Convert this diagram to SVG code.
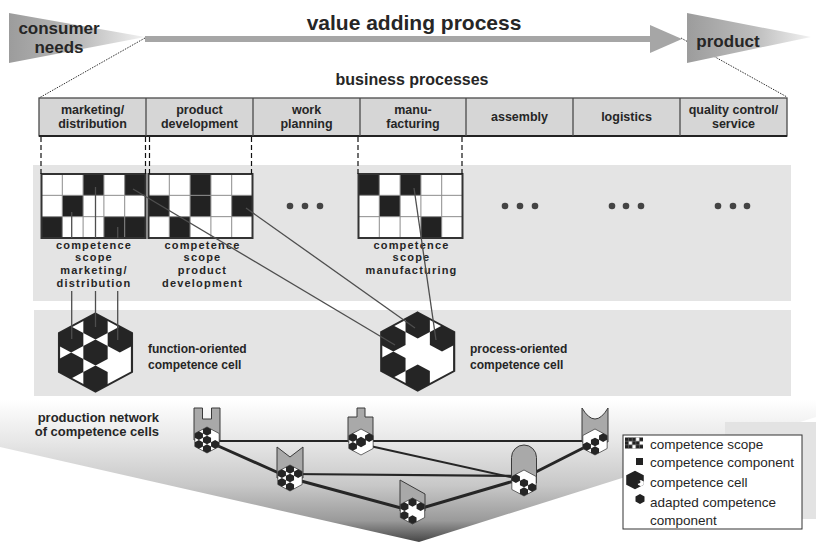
<svg xmlns="http://www.w3.org/2000/svg" xmlns:xlink="http://www.w3.org/1999/xlink" width="816" height="542" viewBox="0 0 816 542">
<style>
  .t { font-family: "Liberation Sans", Arial, sans-serif; fill: #262626; }
  .b { font-weight: bold; }
  .proc { fill: #d6d6d6; stroke: #4a4a4a; stroke-width: 1.3; }
  .dash { stroke: #111; stroke-width: 1.2; stroke-dasharray: 5 3; fill: none; }
  .dot { stroke: #333; stroke-width: 1; stroke-dasharray: 1.5 1.2; fill: none; }
  .band { fill: #e4e4e4; }
  .cw { fill: #fff; }
  .cb { fill: #222; }
  .gl { stroke: #8c8c8c; stroke-width: 1; fill: none; }
  .gf { fill: none; stroke: #333; stroke-width: 2; }
  .lk { stroke: #4e4e4e; stroke-width: 1.3; fill: none; }
  .hbig { fill: #fff; stroke: #2a2a2a; stroke-width: 2; }
  .hd { fill: #252525; }
  .sock { fill: #a9a9a9; stroke: #3a3a3a; stroke-width: 1; }
  .ed { stroke: #262626; fill: none; stroke-linecap: round; }
  .ell { fill: #444; }
</style>
<defs>
  <linearGradient id="gIn" x1="0" y1="0" x2="1" y2="0">
    <stop offset="0" stop-color="#9c9c9c"/>
    <stop offset="0.55" stop-color="#bdbdbd"/>
    <stop offset="1" stop-color="#f2f2f2"/>
  </linearGradient>
  <linearGradient id="gFunnel" gradientUnits="userSpaceOnUse" x1="0" y1="400" x2="0" y2="542">
    <stop offset="0" stop-color="#ffffff"/>
    <stop offset="0.3" stop-color="#e6e6e6"/>
    <stop offset="0.6" stop-color="#c8c8c8"/>
    <stop offset="0.85" stop-color="#9a9a9a"/>
    <stop offset="1" stop-color="#464646"/>
  </linearGradient>
  <polygon id="hb" points="0,-39 33.77,-19.5 33.77,19.5 0,39 -33.77,19.5 -33.77,-19.5"/>
  <polygon id="hs" points="0,-13 11.26,-6.5 11.26,6.5 0,13 -11.26,6.5 -11.26,-6.5"/>
  <path id="gridLines" d="M20.8,0V64M41.6,0V64M62.4,0V64M83.2,0V64M0,21.33H104M0,42.67H104"/>
</defs>

<!-- value adding process -->
<g id="flow">
  <g class="dot">
    <line x1="145" y1="38" x2="39" y2="98"/>
    <line x1="681" y1="38" x2="787" y2="97"/>
  </g>
  <line x1="145" y1="39" x2="652" y2="39" stroke="#a6a6a6" stroke-width="6"/>
  <polygon points="650,25 682,39 650,53" fill="#a6a6a6"/>
  <text class="t b" x="414" y="30" font-size="21" text-anchor="middle">value adding process</text>
</g>
<g id="consumer-needs">
  <polygon points="9,13 145,37 9,63" fill="url(#gIn)"/>
  <text class="t b" font-size="17" text-anchor="middle"><tspan x="59" y="34">consumer</tspan><tspan x="59" y="53">needs</tspan></text>
</g>
<g id="product">
  <polygon points="687,13 811,37 687,63" fill="url(#gIn)"/>
  <text class="t b" x="728" y="47" font-size="17" text-anchor="middle">product</text>
</g>

<!-- business processes -->
<g id="business-processes">
  <text class="t b" x="412" y="85" font-size="16" text-anchor="middle">business processes</text>
  <rect class="proc" x="39" y="98" width="748" height="38"/>
  <line x1="39" y1="136" x2="787" y2="136" stroke="#222" stroke-width="2"/>
  <g stroke="#4a4a4a" stroke-width="1.3">
    <line x1="146" y1="98" x2="146" y2="136"/>
    <line x1="253" y1="98" x2="253" y2="136"/>
    <line x1="360" y1="98" x2="360" y2="136"/>
    <line x1="466" y1="98" x2="466" y2="136"/>
    <line x1="573" y1="98" x2="573" y2="136"/>
    <line x1="680" y1="98" x2="680" y2="136"/>
  </g>
  <g class="t b" font-size="12.5" text-anchor="middle">
    <text><tspan x="92.5" y="114">marketing/</tspan><tspan x="92.5" y="128">distribution</tspan></text>
    <text><tspan x="199.5" y="114">product</tspan><tspan x="199.5" y="128">development</tspan></text>
    <text><tspan x="306.5" y="114">work</tspan><tspan x="306.5" y="128">planning</tspan></text>
    <text><tspan x="413" y="114">manu-</tspan><tspan x="413" y="128">facturing</tspan></text>
    <text x="519.5" y="121">assembly</text>
    <text x="626.5" y="121">logistics</text>
    <text><tspan x="733.5" y="114">quality control/</tspan><tspan x="733.5" y="128">service</tspan></text>
  </g>
</g>

<!-- bands -->
<rect class="band" x="33" y="165" width="758" height="136"/>
<rect class="band" x="34" y="310" width="757" height="86"/>

<!-- competence scopes -->
<g id="scope-marketing" transform="translate(41.5,174)">
  <rect class="cw" width="104" height="64"/>
  <rect class="cb" x="41.6" y="0" width="20.8" height="21.33"/>
  <rect class="cb" x="83.2" y="0" width="20.8" height="21.33"/>
  <rect class="cb" x="20.8" y="21.33" width="20.8" height="21.34"/>
  <rect class="cb" x="0" y="42.67" width="20.8" height="21.33"/>
  <rect class="cb" x="62.4" y="42.67" width="41.6" height="21.33"/>
  <use href="#gridLines" class="gl"/>
  <rect class="gf" width="104" height="64"/>
</g>
<g id="scope-product" transform="translate(148.5,174)">
  <rect class="cw" width="104" height="64"/>
  <rect class="cb" x="41.6" y="0" width="20.8" height="21.33"/>
  <rect class="cb" x="0" y="21.33" width="20.8" height="21.34"/>
  <rect class="cb" x="41.6" y="21.33" width="20.8" height="21.34"/>
  <rect class="cb" x="83.2" y="21.33" width="20.8" height="21.34"/>
  <rect class="cb" x="20.8" y="42.67" width="20.8" height="21.33"/>
  <use href="#gridLines" class="gl"/>
  <rect class="gf" width="104" height="64"/>
</g>
<g id="scope-manufacturing" transform="translate(358.5,174)">
  <rect class="cw" width="104" height="64"/>
  <rect class="cb" x="0" y="0" width="20.8" height="21.33"/>
  <rect class="cb" x="41.6" y="0" width="20.8" height="21.33"/>
  <rect class="cb" x="20.8" y="21.33" width="20.8" height="21.34"/>
  <rect class="cb" x="62.4" y="42.67" width="20.8" height="21.33"/>
  <use href="#gridLines" class="gl"/>
  <rect class="gf" width="104" height="64"/>
</g>
<g id="scope-labels" class="t b" font-size="11" letter-spacing="1.2" text-anchor="middle">
  <text><tspan x="94" y="248.5">competence</tspan><tspan x="94" y="261.3">scope</tspan><tspan x="94" y="274.1">marketing/</tspan><tspan x="94" y="286.9">distribution</tspan></text>
  <text><tspan x="202.5" y="248.5">competence</tspan><tspan x="202.5" y="261.3">scope</tspan><tspan x="202.5" y="274.1">product</tspan><tspan x="202.5" y="286.9">development</tspan></text>
  <text><tspan x="411.5" y="248.5">competence</tspan><tspan x="411.5" y="261.3">scope</tspan><tspan x="411.5" y="274.1">manufacturing</tspan></text>
</g>
<g id="more-scopes" class="ell">
  <circle cx="290" cy="206" r="3.3"/><circle cx="305" cy="206" r="3.3"/><circle cx="320" cy="206" r="3.3"/>
  <circle cx="505" cy="206" r="3.3"/><circle cx="520" cy="206" r="3.3"/><circle cx="535" cy="206" r="3.3"/>
  <circle cx="612" cy="206" r="3.3"/><circle cx="626" cy="206" r="3.3"/><circle cx="641" cy="206" r="3.3"/>
  <circle cx="718" cy="206" r="3.3"/><circle cx="733" cy="206" r="3.3"/><circle cx="747" cy="206" r="3.3"/>
</g>

<!-- competence cells -->
<g id="cell-function" transform="translate(95.5,352.5) scale(1.08,1)">
  <use href="#hb" class="hbig"/>
  <use href="#hs" class="hd" x="0" y="-26"/>
  <use href="#hs" class="hd" x="-22.52" y="-13"/>
  <use href="#hs" class="hd" x="22.52" y="-13"/>
  <use href="#hs" class="hd" x="0" y="0"/>
  <use href="#hs" class="hd" x="-22.52" y="13"/>
  <use href="#hs" class="hd" x="0" y="26"/>
</g>
<text class="t b" font-size="12"><tspan x="148" y="353">function-oriented</tspan><tspan x="148" y="369">competence cell</tspan></text>

<g id="cell-process" transform="translate(417.7,351.5) scale(1.08,1)">
  <use href="#hb" class="hbig"/>
  <use href="#hs" class="hd" x="0" y="-26"/>
  <use href="#hs" class="hd" x="-22.52" y="-13"/>
  <use href="#hs" class="hd" x="22.52" y="-13"/>
  <use href="#hs" class="hd" x="-22.52" y="13"/>
  <use href="#hs" class="hd" x="0" y="26"/>
</g>
<text class="t b" font-size="12"><tspan x="470" y="353">process-oriented</tspan><tspan x="470" y="369">competence cell</tspan></text>

<!-- connectors: process boundaries and scope-to-cell links -->
<g id="connectors">
  <g class="dash">
    <line x1="41" y1="137" x2="41" y2="174"/>
    <line x1="145.5" y1="137" x2="145.5" y2="174"/>
    <line x1="149.5" y1="137" x2="149.5" y2="174"/>
    <line x1="251.5" y1="137" x2="251.5" y2="174"/>
    <line x1="358" y1="137" x2="358" y2="174"/>
    <line x1="462" y1="137" x2="462" y2="174"/>
  </g>
  <g class="lk">
    <polyline points="71.7,212 71.7,238"/>
    <polyline points="71.7,291 71.7,339"/>
    <polyline points="95.5,187 95.5,238"/>
    <polyline points="95.5,291 95.5,327"/>
    <polyline points="117.7,227 117.7,238"/>
    <polyline points="117.7,291 117.7,340"/>
    <line x1="133" y1="189" x2="395" y2="345"/>
    <line x1="246" y1="208" x2="415" y2="328"/>
    <line x1="414" y1="188" x2="436" y2="340"/>
  </g>
</g>

<!-- production network -->
<polygon id="network-ground" points="0,400 816,400 816,417 419,542 0,447" fill="url(#gFunnel)"/>
<rect x="725" y="422" width="91" height="97" fill="#e3e3e3"/>
<text class="t b" font-size="13" text-anchor="end"><tspan x="159" y="422">production network</tspan><tspan x="159" y="436">of competence cells</tspan></text>

<g id="network-links">
  <line class="ed" stroke-width="2.2" x1="207" y1="441" x2="595" y2="441"/>
  <line class="ed" stroke-width="2.2" x1="290" y1="474" x2="524" y2="476"/>
  <line class="ed" stroke-width="2" x1="361" y1="444" x2="524" y2="480"/>
  <line class="ed" stroke-width="3" x1="207" y1="441" x2="290" y2="478"/>
  <line class="ed" stroke-width="3" x1="290" y1="478" x2="412" y2="511"/>
  <line class="ed" stroke-width="3" x1="412" y1="511" x2="524" y2="478"/>
  <line class="ed" stroke-width="3" x1="524" y1="478" x2="595" y2="442"/>
</g>

<g id="node-1">
  <polygon class="sock" points="194,408 202.5,408 202.5,419 211.5,419 211.5,408 220,408 220,440 194,440"/>
  <g transform="translate(207,440) scale(0.36,0.333)">
    <use href="#hb" class="hbig" stroke-width="4"/>
    <use href="#hs" class="hd" x="0" y="-26"/><use href="#hs" class="hd" x="-22.52" y="-13"/>
    <use href="#hs" class="hd" x="0" y="0"/><use href="#hs" class="hd" x="-22.52" y="13"/>
    <use href="#hs" class="hd" x="22.52" y="13"/><use href="#hs" class="hd" x="0" y="26"/>
  </g>
</g>
<g id="node-2">
  <polygon class="sock" points="357,408 365,408 365,417 373,417 373,442 348,442 348,417 357,417"/>
  <g transform="translate(361,442) scale(0.36,0.333)">
    <use href="#hb" class="hbig" stroke-width="4"/>
    <use href="#hs" class="hd" x="0" y="0" transform="scale(1.2)"/>
    <use href="#hs" class="hd" x="-22.52" y="13"/><use href="#hs" class="hd" x="22.52" y="-13"/>
    <use href="#hs" class="hd" x="-22.52" y="-13"/>
  </g>
</g>
<g id="node-3">
  <polygon class="sock" points="277,447 290,457 303,447 303,478 277,478"/>
  <g transform="translate(290,478) scale(0.36,0.333)">
    <use href="#hb" class="hbig" stroke-width="4"/>
    <use href="#hs" class="hd" x="0" y="-26"/><use href="#hs" class="hd" x="-22.52" y="-13"/>
    <use href="#hs" class="hd" x="22.52" y="-13"/><use href="#hs" class="hd" x="0" y="0"/>
    <use href="#hs" class="hd" x="-22.52" y="13"/><use href="#hs" class="hd" x="0" y="26"/>
  </g>
</g>
<g id="node-4">
  <polygon class="sock" points="400,480 425,494 425,511 400,511"/>
  <g transform="translate(412.5,511) scale(0.36,0.333)">
    <use href="#hb" class="hbig" stroke-width="4"/>
    <use href="#hs" class="hd" x="0" y="-26"/><use href="#hs" class="hd" x="-22.52" y="-13"/>
    <use href="#hs" class="hd" x="22.52" y="-13"/><use href="#hs" class="hd" x="-22.52" y="13"/>
    <use href="#hs" class="hd" x="0" y="26"/>
  </g>
</g>
<g id="node-5">
  <path class="sock" d="M511.5,483V457.5A12.5,12.5 0 0 1 536.5,457.5V483Z"/>
  <g transform="translate(524,483) scale(0.36,0.333)">
    <use href="#hb" class="hbig" stroke-width="4"/>
    <use href="#hs" class="hd" x="0" y="0"/><use href="#hs" class="hd" x="-22.52" y="-13"/>
    <use href="#hs" class="hd" x="0" y="26"/><use href="#hs" class="hd" x="22.52" y="13"/>
  </g>
</g>
<g id="node-6">
  <path class="sock" d="M582,408Q595,430 608,408V442H582Z"/>
  <g transform="translate(595,442) scale(0.36,0.333)">
    <use href="#hb" class="hbig" stroke-width="4"/>
    <use href="#hs" class="hd" x="22.52" y="-13"/><use href="#hs" class="hd" x="0" y="0"/>
    <use href="#hs" class="hd" x="-22.52" y="13"/><use href="#hs" class="hd" x="0" y="26"/>
  </g>
</g>

<!-- legend -->
<g id="legend">
  <rect x="623" y="435" width="179" height="94" fill="#fff" stroke="#333" stroke-width="1"/>
  <g transform="translate(625,437.5)">
    <rect width="18" height="11" fill="#222"/>
    <rect x="3.6" y="3.7" width="3.6" height="3.6" fill="#fff"/>
    <rect x="10.8" y="0" width="3.6" height="3.7" fill="#fff"/>
    <rect x="7.2" y="7.3" width="3.6" height="3.7" fill="#fff"/>
    <rect x="14.4" y="3.7" width="3.6" height="3.6" fill="#fff"/>
    <path d="M3.6,0V11M7.2,0V11M10.8,0V11M14.4,0V11M0,3.7H18M0,7.3H18" stroke="#777" stroke-width="0.6"/>
  </g>
  <rect x="636" y="458" width="7" height="7" fill="#222"/>
  <g transform="translate(635,480) scale(0.26,0.24)">
    <use href="#hb" fill="#222"/>
    <use href="#hs" fill="#fff" x="22.52" y="13"/>
    <use href="#hs" class="hd" x="22.52" y="13" transform="scale(0.6)"/>
  </g>
  <polygon points="640,494 644.5,496.5 644.5,501.5 640,504 635.5,501.5 635.5,496.5" fill="#222"/>
  <g class="t" font-size="13.5">
    <text x="650" y="449">competence scope</text>
    <text x="650" y="467">competence component</text>
    <text x="650" y="487">competence cell</text>
    <text x="650" y="507">adapted competence</text>
    <text x="650" y="525">component</text>
  </g>
</g>
</svg>
